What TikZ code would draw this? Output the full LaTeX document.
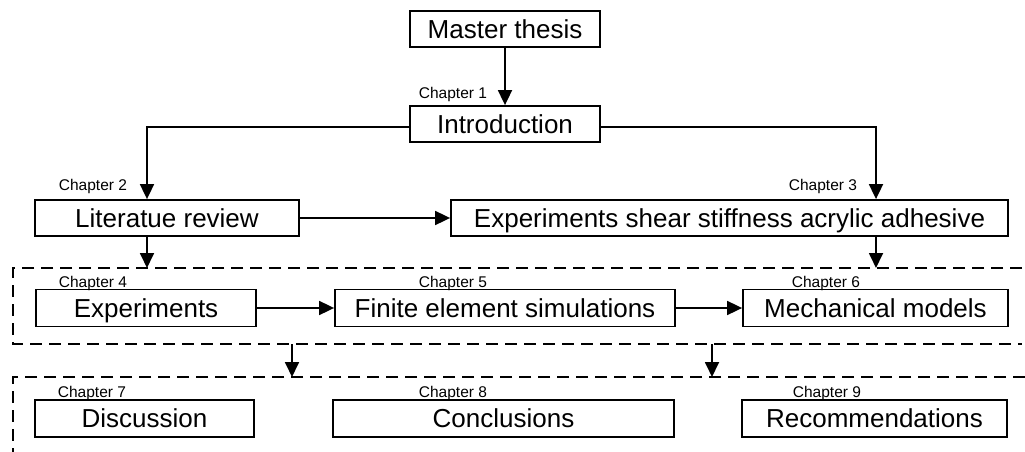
\documentclass[tikz,border=0pt]{standalone}
\usepackage{fontspec}
\setmainfont{Liberation Sans}
\usetikzlibrary{arrows.meta}
\begin{document}
\begin{tikzpicture}[x=1pt,y=-1pt,line width=1.8pt,
  box/.style={draw,line width=1.8pt,inner sep=0pt,minimum height=36pt,text height=18.8pt,text depth=0pt,font=\fontsize{26}{30}\selectfont},
  chap/.style={inner sep=0pt,anchor=base west,font=\fontsize{15.5}{18}\selectfont},
  arr/.style={-{Triangle[length=15pt,width=14pt]},line width=1.8pt},
  grp/.style={dash pattern=on 12pt off 7pt,line width=1.8pt}]
\useasboundingbox (0,0) rectangle (1025,452);
% boxes
\node[box,minimum width=190pt] (master) at (505,29) {Master thesis};
\node[box,minimum width=190pt] (intro) at (505,124) {Introduction};
\node[box,minimum width=264pt] (lit) at (167,218) {Literatue review};
\node[box,minimum width=557pt] (exps) at (729.5,218) {Experiments shear stiffness acrylic adhesive};
\node[box,minimum width=220pt,minimum height=37pt] (exp) at (146,308) {Experiments};
\node[box,minimum width=340pt,minimum height=37pt] (fe) at (505,308) {Finite element simulations};
\node[box,minimum width=265pt,minimum height=37pt] (mm) at (875.5,308) {Mechanical models};
\node[box,minimum width=219pt,minimum height=37pt] (disc) at (144.5,418.5) {Discussion};
\node[box,minimum width=341pt,minimum height=37pt] (concl) at (503.5,418.5) {Conclusions};
\node[box,minimum width=265pt,minimum height=37pt] (rec) at (874.5,418.5) {Recommendations};
% chapter labels
\node[chap] (c1) at (418,99) {Chapter 1};
\node[chap] (c2) at (58,190) {Chapter 2};
\node[chap] (c3) at (788,190) {Chapter 3};
\node[chap] (c4) at (58,287) {Chapter 4};
\node[chap] (c5) at (418,287) {Chapter 5};
\node[chap] (c6) at (791,287) {Chapter 6};
\node[chap] (c7) at (57,397) {Chapter 7};
\node[chap] (c8) at (418,397) {Chapter 8};
\node[chap] (c9) at (792,397) {Chapter 9};
% dashed groups
\draw[grp] (1022,268) -- (13,268) -- (13,344) -- (1022,344);
\draw[grp] (1025,377) -- (13,377) -- (13,452);
\coordinate (g1a) at (147,268);
\coordinate (g1b) at (876,268);
\coordinate (g1l) at (292,344);
\coordinate (g1r) at (712,344);
\coordinate (g2l) at (292,377);
\coordinate (g2r) at (712,377);
% connectors
\draw[arr] (master) -- (intro);
\draw[arr] ([yshift=-3pt]intro.west) -| ([xshift=-20pt]lit.north);
\draw[arr] ([yshift=-3pt]intro.east) -| ([xshift=146.5pt]exps.north);
\draw[arr] (lit) -- (exps);
\draw[arr] ([xshift=-20pt]lit.south) -- (g1a);
\draw[arr] ([xshift=146.5pt]exps.south) -- (g1b);
\draw[arr] (exp) -- (fe);
\draw[arr] (fe) -- (mm);
\draw[arr] (g1l) -- (g2l);
\draw[arr] (g1r) -- (g2r);
\end{tikzpicture}
\end{document}
